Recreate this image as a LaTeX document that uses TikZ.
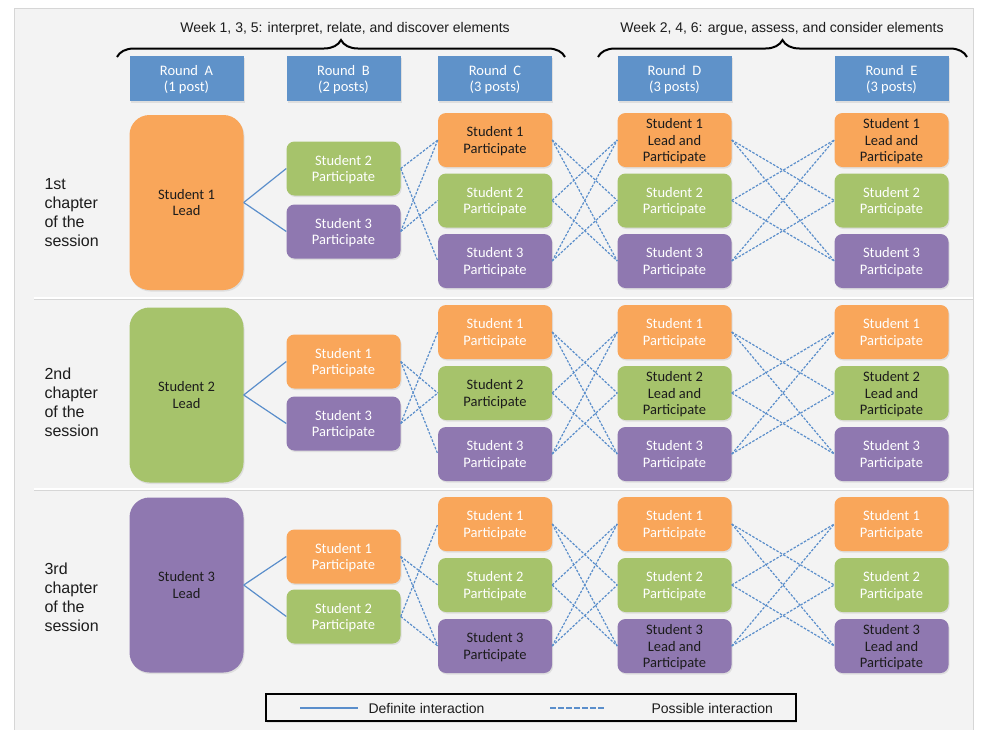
\documentclass[tikz,border=0pt]{standalone}
\usepackage{fontspec}
\setmainfont{Carlito}
\newfontfamily\labelfont{Liberation Sans}
\usetikzlibrary{positioning,decorations.pathreplacing,shadows}
\definecolor{panelgray}{HTML}{F3F3F3}
\definecolor{panelline}{HTML}{D6D6D6}
\definecolor{roundblue}{HTML}{5F92C9}
\definecolor{studorange}{HTML}{F9A65A}
\definecolor{studgreen}{HTML}{A6C36B}
\definecolor{studpurple}{HTML}{8F78B0}
\definecolor{linkblue}{HTML}{5A8ECB}
\definecolor{darktext}{HTML}{1C1C1C}

\tikzset{
  box/.style={rounded corners=8pt, minimum width=114pt, minimum height=54pt,
    inner sep=1pt, align=center, text=white, text depth=0pt,
    font=\fontsize{14.5}{16.5}\selectfont,
    drop shadow={shadow xshift=1pt, shadow yshift=-1.5pt, opacity=0.18}},
  leadbox/.style={box, rounded corners=20pt, minimum height=175pt},
  roundbox/.style={box, rounded corners=0pt, fill=roundblue, minimum height=45pt},
  stuone/.style={fill=studorange},
  stutwo/.style={fill=studgreen},
  stuthree/.style={fill=studpurple},
  dark/.style={text=darktext},
  definite/.style={draw=linkblue, line width=1.2pt},
  possible/.style={draw=linkblue, line width=1.2pt, dash pattern=on 2.5pt off 1.5pt},
  weekbrace/.style={decorate, decoration={brace, amplitude=17pt}, line width=2pt},
  labeltext/.style={font=\labelfont\fontsize{14}{17}\selectfont, text=darktext},
  chaptertext/.style={font=\labelfont\fontsize{16}{19}\selectfont, text=darktext,
    align=left, anchor=west},
}

\begin{document}
\begin{tikzpicture}[x=1pt,y=-1pt]
  \useasboundingbox (0,0) rectangle (986,729);
  % panel and separators
  \fill[panelgray, draw=panelline] (14,8) rectangle (973,735);
  \draw[panelline, line width=1pt] (34,299.5) -- (973,299.5);
  \draw[white, line width=2pt] (34,298) -- (973,298);
  \draw[panelline, line width=1pt] (34,490.5) -- (973,490.5);
  \draw[white, line width=2pt] (34,489) -- (973,489);

  % weeks
  \coordinate (wkonea) at (117,57);
  \coordinate (wkoneb) at (565,57);
  \draw[weekbrace] (wkonea) -- (wkoneb);
  \node[labeltext] (wkone) at (345,29) {Week 1, 3, 5: interpret, relate, and discover elements};
  \coordinate (wktwoa) at (598,57);
  \coordinate (wktwob) at (967,57);
  \draw[weekbrace] (wktwoa) -- (wktwob);
  \node[labeltext] (wktwo) at (782,29) {Week 2, 4, 6: argue, assess, and consider elements};

  % rounds
  \node[roundbox] (rounda) at (186.5,78.5) {Round~~A\\(1 post)};
  \node[roundbox] (roundb) at (343.5,78.5) {Round~~B\\(2 posts)};
  \node[roundbox] (roundc) at (495,78.5) {Round~~C\\(3 posts)};
  \node[roundbox] (roundd) at (674.5,78.5) {Round~~D\\(3 posts)};
  \node[roundbox] (rounde) at (891.5,78.5) {Round~~E\\(3 posts)};

  % 1st chapter
  \node[chaptertext] (chapone) at (41,213) {1st\\chapter\\of the\\session};
  \node[leadbox,stuone,dark] (r1a) at (186.5,202.5) {Student 1\\Lead};
  \node[box,stutwo] (r1b2) at (343.5,168.5) {Student 2\\Participate};
  \node[box,stuthree] (r1b3) at (343.5,231.5) {Student 3\\Participate};
  \node[box,stuone,dark] (r1c1) at (495,140) {Student 1\\Participate};
  \node[box,stutwo] (r1c2) at (495,200.5) {Student 2\\Participate};
  \node[box,stuthree] (r1c3) at (495,261) {Student 3\\Participate};
  \node[box,stuone,dark] (r1d1) at (674.5,140) {Student 1\\Lead and\\Participate};
  \node[box,stutwo] (r1d2) at (674.5,200.5) {Student 2\\Participate};
  \node[box,stuthree] (r1d3) at (674.5,261) {Student 3\\Participate};
  \node[box,stuone,dark] (r1e1) at (891.5,140) {Student 1\\Lead and\\Participate};
  \node[box,stutwo] (r1e2) at (891.5,200.5) {Student 2\\Participate};
  \node[box,stuthree] (r1e3) at (891.5,261) {Student 3\\Participate};

  % 2nd chapter
  \node[chaptertext] (chaptwo) at (41,402) {2nd\\chapter\\of the\\session};
  \node[leadbox,stutwo,dark] (r2a) at (186.5,395) {Student 2\\Lead};
  \node[box,stuone] (r2b1) at (343.5,361.5) {Student 1\\Participate};
  \node[box,stuthree] (r2b3) at (343.5,423.5) {Student 3\\Participate};
  \node[box,stuone] (r2c1) at (495,332) {Student 1\\Participate};
  \node[box,stutwo,dark] (r2c2) at (495,393) {Student 2\\Participate};
  \node[box,stuthree] (r2c3) at (495,454) {Student 3\\Participate};
  \node[box,stuone] (r2d1) at (674.5,332) {Student 1\\Participate};
  \node[box,stutwo,dark] (r2d2) at (674.5,393) {Student 2\\Lead and\\Participate};
  \node[box,stuthree] (r2d3) at (674.5,454) {Student 3\\Participate};
  \node[box,stuone] (r2e1) at (891.5,332) {Student 1\\Participate};
  \node[box,stutwo,dark] (r2e2) at (891.5,393) {Student 2\\Lead and\\Participate};
  \node[box,stuthree] (r2e3) at (891.5,454) {Student 3\\Participate};

  % 3rd chapter
  \node[chaptertext] (chapthree) at (41,597) {3rd\\chapter\\of the\\session};
  \node[leadbox,stuthree,dark] (r3a) at (186.5,585) {Student 3\\Lead};
  \node[box,stuone] (r3b1) at (343.5,556.5) {Student 1\\Participate};
  \node[box,stutwo] (r3b2) at (343.5,616.5) {Student 2\\Participate};
  \node[box,stuone] (r3c1) at (495,524) {Student 1\\Participate};
  \node[box,stutwo] (r3c2) at (495,585) {Student 2\\Participate};
  \node[box,stuthree,dark] (r3c3) at (495,646) {Student 3\\Participate};
  \node[box,stuone] (r3d1) at (674.5,524) {Student 1\\Participate};
  \node[box,stutwo] (r3d2) at (674.5,585) {Student 2\\Participate};
  \node[box,stuthree,dark] (r3d3) at (674.5,646) {Student 3\\Lead and\\Participate};
  \node[box,stuone] (r3e1) at (891.5,524) {Student 1\\Participate};
  \node[box,stutwo] (r3e2) at (891.5,585) {Student 2\\Participate};
  \node[box,stuthree,dark] (r3e3) at (891.5,646) {Student 3\\Lead and\\Participate};

  % links: lead -> round B -> round C
  \foreach \rw in {1,2,3}{
    \foreach \si in {1,2,3}{
      \ifnum\rw=\si\else
        \draw[definite] (r\rw a.east) -- (r\rw b\si.west);
        \foreach \ti in {1,2,3}{
          \ifnum\si=\ti\else
            \draw[possible] (r\rw b\si.east) -- (r\rw c\ti.west);
          \fi
        }
      \fi
    }
  }
  % links: round C -> D -> E
  \foreach \rw in {1,2,3}{
    \foreach \si in {1,2,3}{
      \foreach \ti in {1,2,3}{
        \ifnum\si=\ti\else
          \draw[possible] (r\rw c\si.east) -- (r\rw d\ti.west);
          \draw[possible] (r\rw d\si.east) -- (r\rw e\ti.west);
        \fi
      }
    }
  }

  % legend
  \node[draw=black, line width=1.5pt, fill=panelgray, minimum width=530pt, minimum height=27pt,
    drop shadow={shadow xshift=1pt, shadow yshift=-1.5pt, opacity=0.18}] (legend) at (531,707.5) {};
  \coordinate (defa) at (300,708);
  \coordinate (defb) at (358,708);
  \draw[definite, line width=2pt] (defa) -- (defb);
  \node[labeltext, anchor=west] (deftext) at (365,708) {Definite interaction};
  \coordinate (posa) at (550,708);
  \coordinate (posb) at (605,708);
  \draw[possible, line width=2pt, dash pattern=on 6pt off 2pt] (posa) -- (posb);
  \node[labeltext, anchor=west] (postext) at (648,708) {Possible interaction};
\end{tikzpicture}
\end{document}
